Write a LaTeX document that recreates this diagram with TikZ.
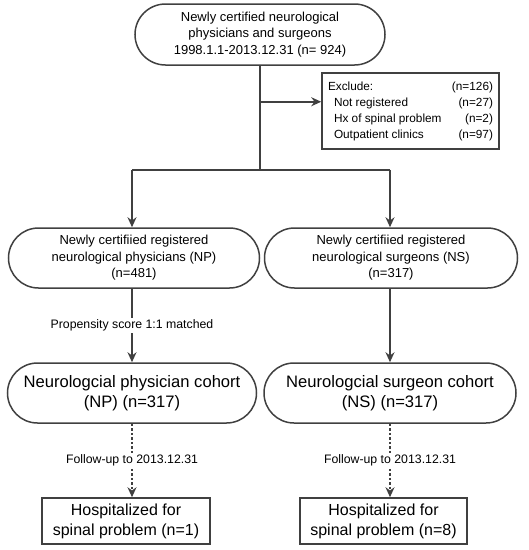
\documentclass[tikz,border=0pt]{standalone}
\usepackage{fontspec}
\setmainfont{Liberation Sans}
\usetikzlibrary{arrows.meta, positioning, shapes.misc, calc}

\begin{document}
\begin{tikzpicture}[>=Stealth, x=1pt, y=-1pt]

    % Define styles
    \tikzset{
        flowline/.style={draw=black!75, line width=1.5pt},
        flowarrow/.style={flowline, -{Stealth[length=10pt, width=9pt]}},
        dotarrow/.style={flowarrow, dash pattern=on 2.5pt off 2pt},
        roundbox/.style={rounded rectangle, flowline, align=center, inner sep=2pt},
        plainbox/.style={rectangle, flowline, align=center, inner sep=4pt},
        midtext/.style={fill=white, inner sep=2pt, font=\fontsize{12.3}{14}\selectfont},
        smalltext/.style={font=\fontsize{13}{16.5}\selectfont},
        bigtext/.style={font=\fontsize{16.6}{20}\selectfont},
        hosptext/.style={font=\fontsize{16}{20}\selectfont}
    }

    \useasboundingbox (0,0) rectangle (529,550);

    % 1. Source population
    \node[roundbox, smalltext, minimum width=254pt, minimum height=61pt] (All) at (260,34.5)
        {Newly certified neurological\\physicians and surgeons\\1998.1.1-2013.12.31 (n= 924)};

    % 2. Exclusion box
    \node[plainbox, font=\fontsize{11.8}{16}\selectfont, minimum width=177pt, minimum height=76pt, inner sep=0pt] (Excl) at (410.5,111)
        {\begin{tabular*}{165pt}{@{}l@{\extracolsep{\fill}}r@{}}
            Exclude: & (n=126)\\
            \hspace{6pt}Not registered & (n=27)\\
            \hspace{6pt}Hx of spinal problem & (n=2)\\
            \hspace{6pt}Outpatient clinics & (n=97)
        \end{tabular*}};

    % 3. Registered groups
    \node[roundbox, smalltext, minimum width=255pt, minimum height=60pt] (NP) at (134,258)
        {Newly certifiied registered\\neurological physicians (NP)\\(n=481)};
    \node[roundbox, smalltext, minimum width=257pt, minimum height=60pt] (NS) at (391,258)
        {Newly certifiied registered\\neurological surgeons (NS)\\(n=317)};

    % 4. Cohorts
    \node[roundbox, bigtext, minimum width=253pt, minimum height=60pt] (NPC) at (132,393)
        {Neurologcial physician cohort\\(NP) (n=317)};
    \node[roundbox, bigtext, minimum width=256pt, minimum height=60pt] (NSC) at (390,393)
        {Neurologcial surgeon cohort\\(NS) (n=317)};

    % 5. Outcomes
    \node[plainbox, hosptext, minimum width=168pt, minimum height=46pt] (NPH) at (126,521)
        {Hospitalized for\\spinal problem (n=1)};
    \node[plainbox, hosptext, minimum width=167pt, minimum height=46pt] (NSH) at (383.5,521)
        {Hospitalized for\\spinal problem (n=8)};

    % 6. Connectors
    \coordinate (Branch) at ($(All.south)+(0,36)$);
    \coordinate (Split) at ($(All.south)+(0,104)$);
    \draw[flowline] (All.south) -- (Split);
    \draw[flowarrow] (Branch) -- (Branch -| Excl.west);
    \draw[flowline] (Split -| NPC.north) -- (Split -| NSC.north);
    \draw[flowarrow] (Split -| NPC.north) -- (NPC.north |- NP.north);
    \draw[flowarrow] (Split -| NSC.north) -- (NSC.north |- NS.north);

    % Matching and follow-up
    \draw[flowarrow] (NPC.north |- NP.south) -- (NPC.north)
        node[midway, midtext] (Match) {Propensity score 1:1 matched};
    \draw[flowarrow] (NSC.north |- NS.south) -- (NSC.north);
    \draw[dotarrow] (NPC.south) -- (NPC.south |- NPH.north)
        node[midway, midtext] (FollowNP) {Follow-up to 2013.12.31};
    \draw[dotarrow] (NSC.south) -- (NSC.south |- NSH.north)
        node[midway, midtext] (FollowNS) {Follow-up to 2013.12.31};

\end{tikzpicture}
\end{document}
